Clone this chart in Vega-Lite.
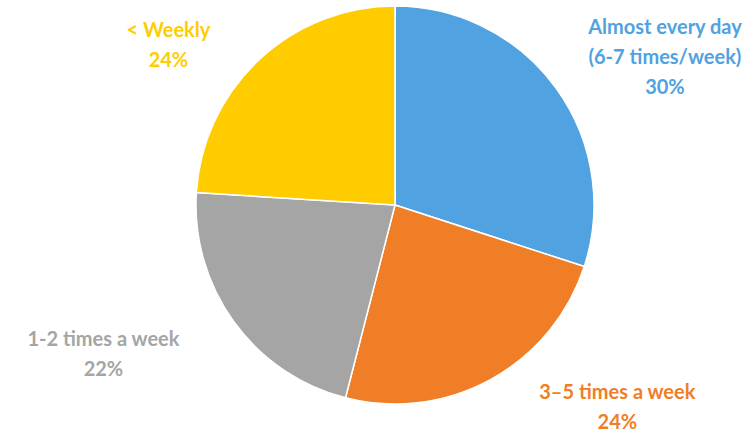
{
  "$schema": "https://vega.github.io/schema/vega-lite/v6.json",
  "autosize": "none",
  "width": 718,
  "height": 410,
  "padding": {"left": 36, "top": 0, "right": 0, "bottom": 25},
  "background": "white",
  "config": {"view": {"stroke": null}},
  "data": {
    "values": [
      {"category": "Almost every day (6-7 times/week)", "value": 30, "order": 1, "label": "Almost every day\n(6-7 times/week)\n30%"},
      {"category": "3–5 times a week", "value": 24, "order": 2, "label": "3–5 times a week\n24%"},
      {"category": "1-2 times a week", "value": 22, "order": 3, "label": "1-2 times a week\n22%"},
      {"category": "< Weekly", "value": 24, "order": 4, "label": "< Weekly\n24%"}
    ]
  },
  "encoding": {
    "theta": {"field": "value", "type": "quantitative", "stack": true},
    "order": {"field": "order", "type": "quantitative"},
    "color": {
      "field": "category",
      "type": "nominal",
      "legend": null,
      "sort": ["Almost every day (6-7 times/week)", "3–5 times a week", "1-2 times a week", "< Weekly"],
      "scale": {
        "domain": ["Almost every day (6-7 times/week)", "3–5 times a week", "1-2 times a week", "< Weekly"],
        "range": ["#50A2E0", "#F07E26", "#A5A5A5", "#FFCC00"]
      }
    }
  },
  "layer": [
    {"mark": {"type": "arc", "radius": 199, "stroke": "white", "strokeWidth": 1.5}},
    {
      "mark": {"type": "text", "radius": 304, "dx": 24, "dy": 2, "font": "Lato", "fontWeight": "bold", "fontSize": 20, "lineHeight": 30, "lineBreak": "\n"},
      "encoding": {"text": {"condition": {"test": "datum.order === 1", "field": "label"}, "value": ""}}
    },
    {
      "mark": {"type": "text", "radius": 283, "dx": 86, "dy": -60, "font": "Lato", "fontWeight": "bold", "fontSize": 20, "lineHeight": 30, "lineBreak": "\n"},
      "encoding": {"text": {"condition": {"test": "datum.order === 2", "field": "label"}, "value": ""}}
    },
    {
      "mark": {"type": "text", "radius": 327, "dx": -27, "dy": -57, "font": "Lato", "fontWeight": "bold", "fontSize": 20, "lineHeight": 30, "lineBreak": "\n"},
      "encoding": {"text": {"condition": {"test": "datum.order === 3", "field": "label"}, "value": ""}}
    },
    {
      "mark": {"type": "text", "radius": 274, "dx": -39, "dy": 26, "font": "Lato", "fontWeight": "bold", "fontSize": 20, "lineHeight": 30, "lineBreak": "\n"},
      "encoding": {"text": {"condition": {"test": "datum.order === 4", "field": "label"}, "value": ""}}
    }
  ]
}
